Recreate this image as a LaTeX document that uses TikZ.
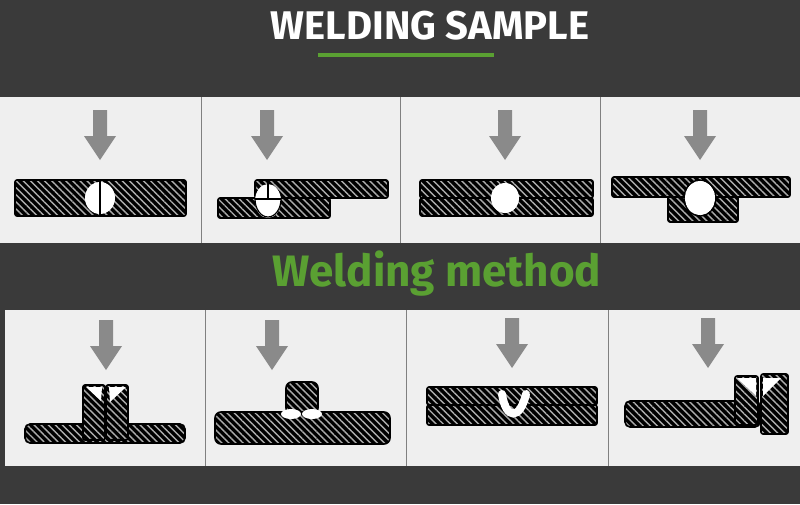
\documentclass[tikz,border=0pt]{standalone}
\usepackage{fontspec}
\setmainfont{Fira Sans}
\usetikzlibrary{patterns.meta}
\definecolor{bg}{HTML}{3A3A3A}
\definecolor{panel}{HTML}{EFEFEF}
\definecolor{grn}{HTML}{5AA032}
\definecolor{arr}{HTML}{8A8A8A}
\tikzset{plate/.style={preaction={fill=black},pattern={Lines[angle=-45,distance=5pt,line width=1.4pt]},pattern color=gray!65,draw=black,line width=1.6pt,rounded corners=2pt},
weld/.style={fill=white,draw=none},
sep/.style={draw=gray,line width=1pt}}
\newcommand{\darr}[2]{\fill[arr] (#1-7,#2) -- (#1+7,#2) -- (#1+7,#2+26) -- (#1+16,#2+26) -- (#1,#2+50) -- (#1-16,#2+26) -- (#1-7,#2+26) -- cycle;}
\begin{document}
\begin{tikzpicture}[x=1pt,y=-1pt]
\fill[bg] (0,0) rectangle (800,504);
\useasboundingbox (0,0) rectangle (800,504);
\node[text=white,font=\bfseries\fontsize{40}{44}\selectfont] (title) at (430,26) {WELDING SAMPLE};
\fill[grn] (318,53) rectangle (494,57);
\node[text=grn,font=\bfseries\fontsize{44}{48}\selectfont] (method) at (437,274) {Welding method};
\fill[panel] (0,97) rectangle (800,243);
\foreach \x in {201,400,600} \draw[sep] (\x,97) -- (\x,243);
\fill[panel] (5,310) rectangle (800,466);
\foreach \x in {205,406,608} \draw[sep] (\x,310) -- (\x,466);
% row1 p1
\darr{100}{110}
\draw[plate] (15,180) rectangle (186,216);
\fill[weld] (100,198) ellipse (15 and 16);
\draw[line width=1.3pt] (100,181) -- (100,215);
% p2
\darr{267}{110}
\draw[plate] (255,180) rectangle (388,198);
\draw[plate] (218,198) rectangle (330,218);
\fill[weld] (268,201) ellipse (13 and 17);
\fill[weld] (255,198) arc (180:0:13 and 17);
\draw[line width=1.2pt] (255,199) arc (180:0:13 and 18);
\draw[line width=1.2pt] (255,199) -- (281,199);
\draw[line width=1.2pt] (268,181) -- (268,199);
% p3
\darr{505}{110}
\draw[plate] (420,180) rectangle (593,198);
\draw[plate] (420,198) rectangle (593,216);
\fill[weld] (505,198) ellipse (14 and 15);
% p4
\darr{700}{110}
\draw[plate] (668,195) rectangle (738,222);
\draw[plate] (612,177) rectangle (790,197);
\fill[weld] (700,198) ellipse (15 and 17);
\draw[line width=1.3pt] (700,198) ellipse (16 and 18);
% row2 p1
\darr{106}{320}
\draw[plate,rounded corners=5pt] (25,424) rectangle (185,443);
\draw[plate] (83,385) rectangle (105,440);
\draw[plate] (106,385) rectangle (128,440);
\fill[weld] (86,387) -- (102,387) -- (101,401) -- cycle;
\fill[weld] (109,387) -- (126,387) -- (110,402) -- cycle;
% p2
\darr{272}{320}
\draw[plate,rounded corners=6pt] (286,382) rectangle (318,414);
\draw[plate,rounded corners=6pt] (215,412) rectangle (390,444);
\fill[weld] (291,414) ellipse (10 and 5);
\fill[weld] (312,414) ellipse (10 and 5);
% p3
\darr{512}{318}
\draw[plate] (427,387) rectangle (597,405);
\draw[plate] (427,405) rectangle (597,425);
\draw[white,line width=8pt,line cap=round] (502,394) .. controls (506,420) and (520,420) .. (526,394);
% p4
\darr{708}{318}
\draw[plate,rounded corners=5pt] (625,401) rectangle (760,427);
\draw[plate] (735,376) rectangle (758,425);
\draw[plate] (761,374) rectangle (788,434);
\fill[weld] (737,378) -- (756,378) -- (756,396) -- cycle;
\fill[weld] (763,378) -- (781,378) -- (763,396) -- cycle;
\end{tikzpicture}
\end{document}
